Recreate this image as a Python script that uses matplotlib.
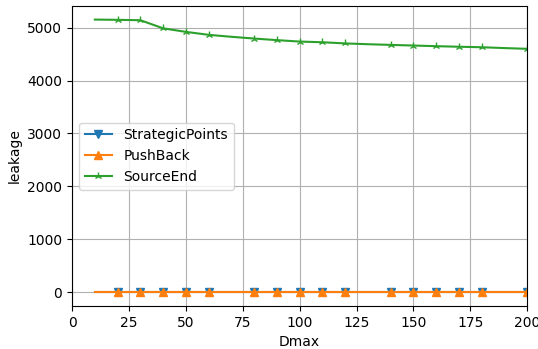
import matplotlib
matplotlib.use("Agg")
import matplotlib.pyplot as plt

dmax = [10, 20, 30, 40, 50, 60, 70, 80, 90, 100, 110, 120, 130, 140, 150, 160, 170, 180, 190, 200]
strategic_points = [0] * 20
push_back = [0] * 20
source_end = [5150, 5145, 5138, 4985, 4918, 4862, 4825, 4792, 4762, 4735, 4722, 4700, 4685,
              4672, 4660, 4648, 4637, 4628, 4612, 4598]

# markers are missing at 10, 70, 130, 190
marks = [1, 2, 3, 4, 5, 7, 8, 9, 10, 11, 13, 14, 15, 16, 17, 19]

fig, ax = plt.subplots(figsize=(5.38, 3.49), dpi=100)
ax.plot(dmax, strategic_points, marker="v", markevery=marks, label="StrategicPoints")
ax.plot(dmax, push_back, marker="^", markevery=marks, label="PushBack")
ax.plot(dmax, source_end, marker="2", markevery=marks, label="SourceEnd")

ax.set_xlim(0, 200)
ax.set_xlabel("Dmax")
ax.set_ylabel("leakage")
ax.grid(True)
ax.legend(loc="center left")

plt.subplots_adjust(left=0.134, right=0.98, top=0.983, bottom=0.123)
plt.savefig("out.png")
